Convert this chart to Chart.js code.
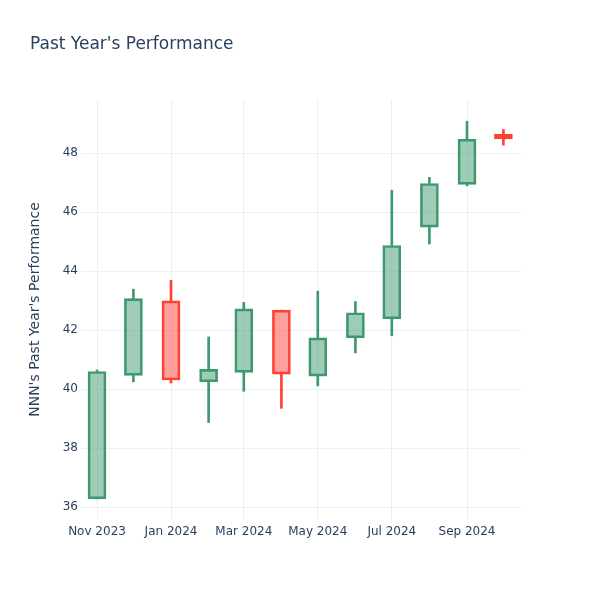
<!DOCTYPE html>
<html>
<head>
<meta charset="utf-8">
<script src="https://cdn.jsdelivr.net/npm/chart.js@4/dist/chart.umd.min.js"></script>
<style>
  body { margin: 0; background: #fff; }
</style>
</head>
<body>
<canvas id="candleChart" width="600" height="600"></canvas>
<script>
// monthly candles
let months = ['2023-11-01', '2023-12-01', '2024-01-01', '2024-02-01', '2024-03-01', '2024-04-01',
              '2024-05-01', '2024-06-01', '2024-07-01', '2024-08-01', '2024-09-01', '2024-10-01'];
let open  = [36.28, 40.47, 42.99, 40.25, 40.57, 42.68, 40.44, 41.74, 42.38, 45.49, 46.94, 48.64];
let high  = [40.65, 43.39, 43.69, 41.77, 42.94, 42.68, 43.32, 42.97, 46.74, 47.18, 49.08, 48.80];
let low   = [36.28, 40.25, 40.21, 38.87, 39.93, 39.35, 40.11, 41.23, 41.81, 44.92, 46.89, 48.27];
let close = [40.60, 43.07, 40.31, 40.67, 42.72, 40.51, 41.74, 42.59, 44.87, 46.97, 48.47, 48.48];

let tickDates  = ['2023-11-01', '2024-01-01', '2024-03-01', '2024-05-01', '2024-07-01', '2024-09-01'];
let tickLabels = ['Nov 2023', 'Jan 2024', 'Mar 2024', 'May 2024', 'Jul 2024', 'Sep 2024'];
let yTicks = [36, 38, 40, 42, 44, 46, 48];

const FONT = "'DejaVu Sans', sans-serif";
const TEXT = '#2a3f5f';
const GRID = '#EBF0F8';
const UP_LINE = '#3D9970', UP_FILL = 'rgba(61, 153, 112, 0.5)';
const DN_LINE = '#FF4136', DN_FILL = 'rgba(255, 65, 54, 0.5)';

// days since first candle, so months keep their real spacing
const base = Date.parse(months[0] + 'T00:00:00Z');
function dayOf(s) {
    return (Date.parse(s + 'T00:00:00Z') - base) / 86400000;
}

const isUp = i => close[i] >= open[i];
const lineCol = ctx => isUp(ctx.dataIndex) ? UP_LINE : DN_LINE;
const fillCol = ctx => isUp(ctx.dataIndex) ? UP_FILL : DN_FILL;

const bodies = months.map((m, i) => ({ x: dayOf(m), y: [open[i], close[i]] }));
const lowWicks = months.map((m, i) => ({ x: dayOf(m), y: [low[i], Math.min(open[i], close[i])] }));
const highWicks = months.map((m, i) => ({ x: dayOf(m), y: [Math.max(open[i], close[i]), high[i]] }));

const titlePlugin = {
    id: 'plotTitle',
    afterDraw(chart) {
        const c = chart.ctx;
        c.save();
        c.font = '17px ' + FONT;
        c.fillStyle = TEXT;
        c.textBaseline = 'middle';
        c.textAlign = 'left';
        c.fillText("Past Year's Performance", 30, 45);
        c.restore();
    }
};

var ctx = document.getElementById('candleChart').getContext('2d');
var candleChart = new Chart(ctx, {
    type: 'bar',
    data: {
        datasets: [
            {
                data: lowWicks,
                backgroundColor: lineCol,
                borderWidth: 0,
                barThickness: 2,
                grouped: false
            },
            {
                data: highWicks,
                backgroundColor: lineCol,
                borderWidth: 0,
                barThickness: 2,
                grouped: false
            },
            {
                data: bodies,
                backgroundColor: fillCol,
                borderColor: lineCol,
                borderWidth: 2,
                borderSkipped: false,
                barThickness: 18,
                grouped: false
            }
        ]
    },
    options: {
        responsive: false,
        animation: false,
        layout: { padding: { top: 100, right: 79, bottom: 41, left: 27 } },
        plugins: {
            legend: { display: false },
            tooltip: { enabled: false },
            title: { display: false }
        },
        scales: {
            x: {
                type: 'linear',
                offset: false,
                min: -13.2,
                max: 349.5,
                afterBuildTicks: scale => {
                    scale.ticks = tickDates.map(d => ({ value: dayOf(d) }));
                },
                afterFit: scale => { scale.height = 40; },
                ticks: {
                    autoSkip: false,
                    maxRotation: 0,
                    padding: 6,
                    color: TEXT,
                    font: { family: FONT, size: 12 },
                    callback: v => tickLabels[tickDates.findIndex(d => dayOf(d) === v)]
                },
                grid: { color: GRID, lineWidth: 1, drawTicks: false, offset: false },
                border: { display: false }
            },
            y: {
                type: 'linear',
                min: 35.6,
                max: 49.8,
                afterBuildTicks: scale => {
                    scale.ticks = yTicks.map(v => ({ value: v }));
                },
                afterFit: scale => { scale.width = 54; },
                ticks: {
                    padding: 3,
                    color: TEXT,
                    font: { family: FONT, size: 12 }
                },
                grid: { color: GRID, lineWidth: 1, drawTicks: false },
                border: { display: false },
                title: {
                    display: true,
                    text: "NNN's Past Year's Performance",
                    color: TEXT,
                    font: { family: FONT, size: 14 },
                    padding: 0
                }
            }
        }
    },
    plugins: [titlePlugin]
});
</script>
</body>
</html>
